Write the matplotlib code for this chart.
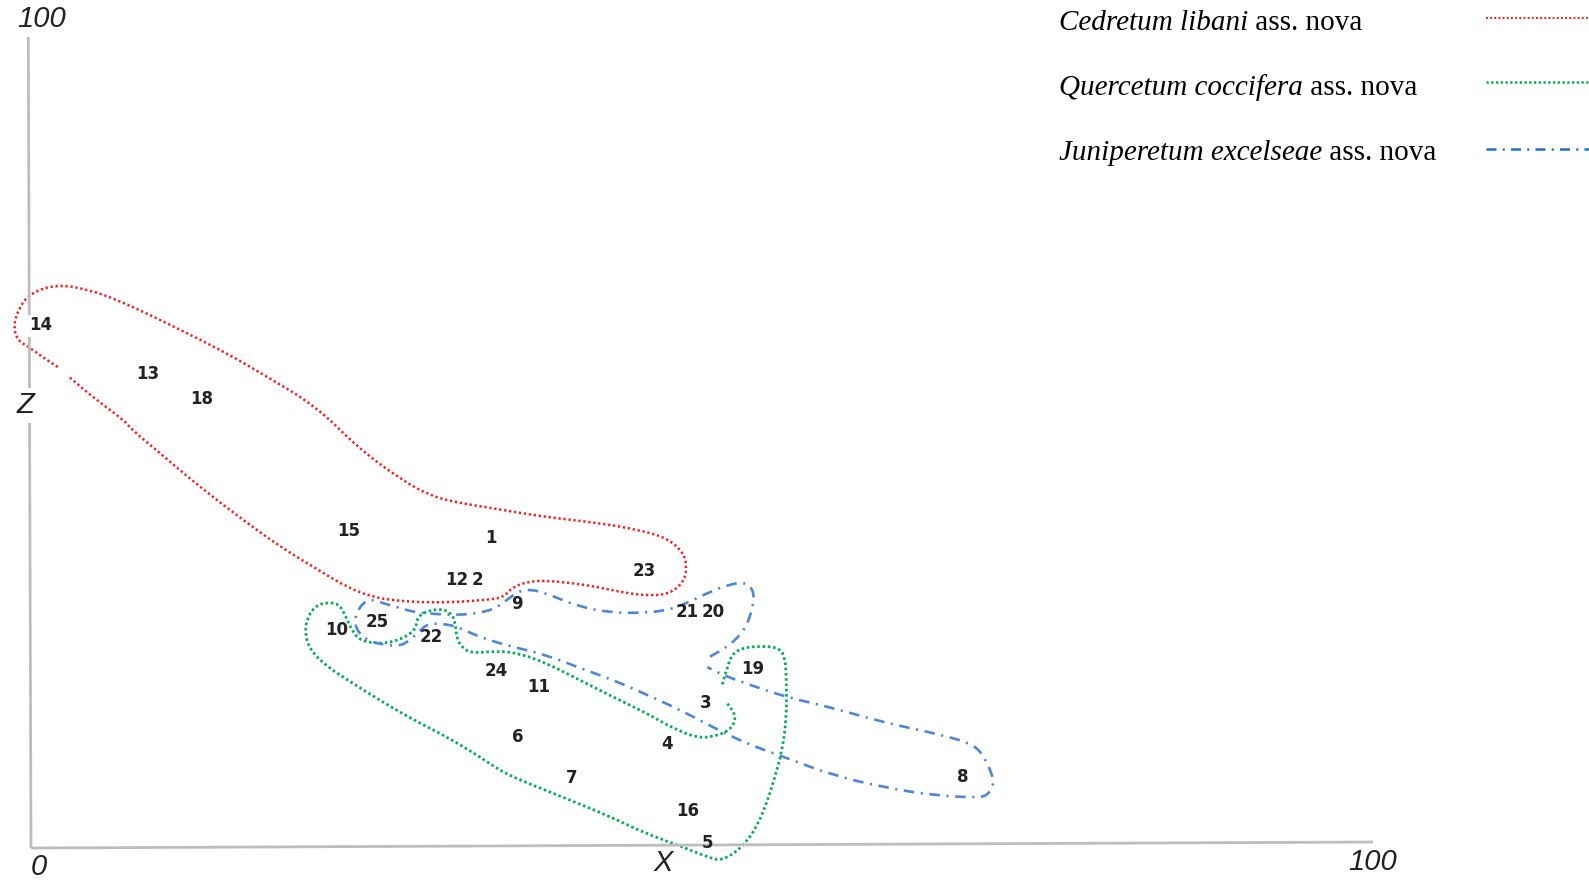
import numpy as np
import matplotlib.pyplot as plt
from matplotlib.path import Path
from matplotlib.patches import PathPatch

# releve numbers placed on the X / Z ordination plane (0-100)
releve_labels = ['14', '13', '18', '15', '1', '12', '2', '23', '9', '21', '20', '10',
                 '25', '22', '24', '11', '19', '3', '6', '4', '7', '16', '5', '8']
releve_x = [0.7, 8.7, 12.7, 23.7, 34.3, 31.7, 33.3, 45.7, 36.2, 48.9, 50.8, 22.8,
            25.8, 29.8, 34.7, 37.8, 53.8, 50.3, 36.3, 47.4, 40.3, 48.9, 50.4, 69.4]
releve_z = [64.5, 58.4, 55.4, 39.1, 38.2, 33.0, 33.0, 34.2, 30.1, 29.1, 29.1, 26.9,
            27.9, 26.0, 21.8, 19.9, 22.1, 17.9, 13.7, 12.8, 8.6, 4.6, 0.6, 8.8]

# hand drawn envelopes of the three associations
cedretum_x = [2.9, 4.9, 6.9, 7.5, 9.6, 12.6, 15.6, 18.6, 21.4, 23.5, 25.5, 27.3, 29.0,
              31.4, 34.0, 35.2, 35.9, 37.0, 38.1, 40.2, 42.2, 44.4, 46.3, 47.6, 48.6,
              48.9, 48.6, 47.4, 45.4, 42.2, 38.4, 34.7, 31.4, 29.7, 27.6, 24.4, 21.3,
              17.6, 14.6, 11.6, 8.9, 6.4, 4.2, 1.9, -0.1, -1.0, -1.3, -1.0, -0.1, 0.9, 2.0]
cedretum_z = [58.0, 55.2, 52.8, 51.6, 48.7, 44.5, 40.7, 37.1, 34.3, 32.2, 30.9, 30.5, 30.3,
              30.3, 30.6, 30.9, 32.2, 32.8, 33.0, 32.7, 32.2, 31.4, 31.1, 31.4, 32.7,
              34.6, 36.5, 38.2, 39.2, 40.1, 40.8, 41.8, 42.7, 43.5, 45.4, 49.3, 54.4,
              58.1, 61.0, 63.5, 65.7, 67.6, 68.9, 69.5, 68.4, 66.3, 64.2, 62.6, 61.7, 60.5, 59.3]

quercetum_x = [51.9, 52.6, 52.1, 50.8, 49.6, 47.8, 45.9, 43.4, 40.9, 38.4, 36.4, 34.7,
               32.9, 32.1, 31.7, 31.6, 31.2, 30.5, 29.5, 28.8, 28.7, 28.2, 27.0, 25.8,
               24.5, 23.9, 23.5, 23.0, 22.3, 21.3, 20.6, 20.4, 20.8, 22.1, 24.0, 26.0,
               28.5, 31.0, 33.5, 34.9, 36.4, 39.6, 43.4, 45.5, 48.6, 50.4, 51.5, 53.0,
               54.1, 54.9, 55.3, 56.0, 56.3, 56.3, 56.2, 55.7, 54.5, 53.0, 52.2, 51.9, 51.5]
quercetum_z = [17.8, 16.2, 14.5, 13.7, 13.6, 14.8, 16.6, 18.6, 20.7, 22.8, 24.0, 24.3,
               24.0, 24.7, 26.0, 28.1, 29.1, 29.5, 29.2, 28.5, 27.2, 26.3, 25.4, 25.2,
               25.6, 26.9, 28.4, 30.0, 30.3, 30.0, 28.5, 26.5, 24.4, 22.3, 20.3, 18.2,
               15.8, 13.7, 11.2, 9.6, 8.4, 6.3, 3.7, 2.0, 0.1, -1.1, -1.6, 0.1,
               2.6, 5.9, 8.0, 12.1, 16.2, 20.3, 23.6, 24.7, 24.9, 24.7, 23.8, 22.3, 20.1]

juniperetum_x = [50.6, 51.9, 53.0, 53.6, 53.9, 53.7, 53.0, 51.9, 50.6, 48.9, 47.4, 45.6,
                 43.4, 40.9, 38.4, 37.2, 36.4, 35.7, 34.7, 33.5, 31.7, 29.7, 28.5, 27.5,
                 26.2, 25.4, 24.7, 24.3, 24.1, 24.4, 25.3, 26.6, 27.5, 28.2, 28.8, 29.5,
                 30.3, 31.6, 32.9, 34.2, 35.9, 38.4, 40.9, 43.4, 45.9, 48.4, 50.8, 53.3,
                 56.3, 59.7, 63.5, 67.2, 70.5, 71.3, 71.8, 71.4, 70.7, 69.7, 67.2, 63.5,
                 59.7, 56.3, 53.6, 51.6, 50.4]
juniperetum_z = [23.6, 24.8, 26.5, 28.5, 30.8, 32.2, 32.8, 32.4, 31.6, 30.2, 29.3, 29.0,
                 29.0, 29.7, 31.4, 31.9, 31.7, 30.9, 29.6, 29.0, 28.7, 28.9, 29.1, 29.6,
                 30.2, 30.7, 30.2, 29.0, 27.9, 26.5, 25.4, 25.0, 24.9, 25.6, 26.5, 27.6,
                 27.7, 27.4, 26.4, 25.6, 24.8, 23.8, 22.2, 20.7, 18.9, 17.0, 14.9, 12.9,
                 11.1, 9.0, 7.5, 6.5, 6.2, 6.5, 8.0, 10.0, 12.1, 13.1, 14.2, 15.5,
                 17.3, 18.6, 20.1, 21.3, 22.3]

legend_italic = ['Cedretum libani', 'Quercetum coccifera', 'Juniperetum excelseae']
legend_roman = ' ass. nova'

RED = '#ff1a1a'
GREEN = '#00b050'
BLUE = '#4d88d6'
BLUE_KEY = '#1a72c8'
AXIS_GRAY = '#bdbdbd'
INK = '#222222'

RED_LS = (0, (0.9, 1.1))
GREEN_LS = (0, (0.9, 1.0))
BLUE_LS = (0, (4, 2.5, 0.8, 2.5))


def envelope(xs, zs):
    # quadratic spline through the traced outline so the hand drawn curve stays smooth
    pts = np.column_stack([xs, zs])
    mids = (pts[:-1] + pts[1:]) / 2
    verts = [pts[0], mids[0]]
    codes = [Path.MOVETO, Path.LINETO]
    for i in range(1, len(pts) - 1):
        verts += [pts[i], mids[i]]
        codes += [Path.CURVE3, Path.CURVE3]
    verts.append(pts[-1])
    codes.append(Path.LINETO)
    return Path(verts, codes)


W, H = 1589, 885
fig = plt.figure(figsize=(W / 100, H / 100), dpi=100)
ax = fig.add_axes([0, 0, 1, 1])
ax.set_xlim(-2.31, 116.10)
ax.set_ylim(-4.56, 104.56)
ax.axis('off')

# axes of the ordination, the Z axis is broken where labels sit on it
for z0, z1 in [(100, 65.7), (63.0, 56.7), (52.4, 0)]:
    ax.plot([-0.002 * z0, -0.002 * z1], [z0, z1], color=AXIS_GRAY, lw=2.0,
            solid_capstyle='butt')
ax.plot([0, 100], [0, 0.74], color=AXIS_GRAY, lw=2.0, solid_capstyle='butt')

ax_font = dict(family='Liberation Sans', style='italic', fontsize=21, color=INK,
               ha='center', va='center')
ax.text(0.8, 102.2, '100', **ax_font)
ax.text(-0.45, 54.6, 'Z', **ax_font)
ax.text(0.6, -2.3, '0', **ax_font)
ax.text(47.1, -1.85, 'X', **ax_font)
ax.text(100, -1.7, '100', **ax_font)

# envelopes
ax.add_patch(PathPatch(envelope(cedretum_x, cedretum_z), fill=False, edgecolor=RED,
                       lw=1.8, linestyle=RED_LS))
ax.add_patch(PathPatch(envelope(quercetum_x, quercetum_z), fill=False, edgecolor=GREEN,
                       lw=2.0, linestyle=GREEN_LS))
ax.add_patch(PathPatch(envelope(juniperetum_x, juniperetum_z), fill=False, edgecolor=BLUE,
                       lw=1.9, linestyle=BLUE_LS))

for lab, x, z in zip(releve_labels, releve_x, releve_z):
    ax.text(x, z, lab, family='DejaVu Sans', weight='bold', fontsize=12,
            color=INK, ha='center', va='center')

# legend drawn by hand, italic name followed by roman text
fig.canvas.draw()
renderer = fig.canvas.get_renderer()
key_styles = [(RED, 1.5, RED_LS), (GREEN, 1.8, GREEN_LS), (BLUE_KEY, 1.8, BLUE_LS)]
text_base = [30, 95, 160]
key_y = [18, 82, 149]
for name, base, ky, (col, lw, ls) in zip(legend_italic, text_base, key_y, key_styles):
    t = fig.text(1059 / W, 1 - base / H, name, family='Liberation Serif', style='italic',
                 fontsize=21, va='baseline', ha='left')
    bb = t.get_window_extent(renderer)
    fig.text(bb.x1 / W, 1 - base / H, legend_roman, family='Liberation Serif',
             fontsize=21, va='baseline', ha='left')
    fig.add_artist(plt.Line2D([1486 / W, 1.0], [1 - ky / H, 1 - ky / H], color=col,
                              lw=lw, linestyle=ls))

fig.savefig('out.png', dpi=100, facecolor='white')
